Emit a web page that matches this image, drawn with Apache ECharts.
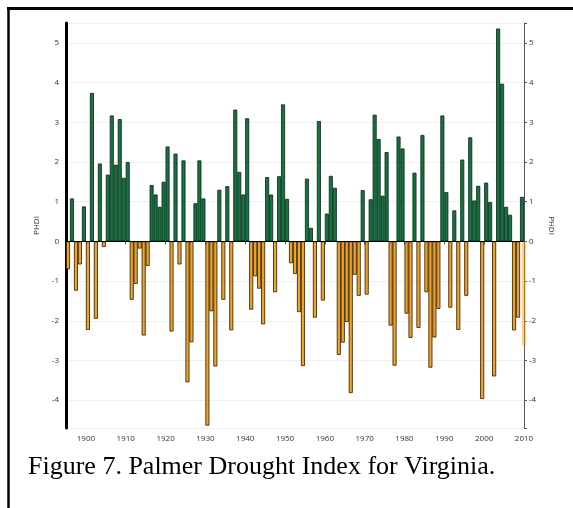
<!DOCTYPE html>
<html>
<head>
<meta charset="utf-8">
<script src="https://cdn.jsdelivr.net/npm/echarts@6/dist/echarts.min.js"></script>
<style>
  html, body { margin: 0; padding: 0; background: #fff; }
  #chart-view { width: 573px; height: 508px; }
</style>
</head>
<body>
<div id="chart-view"></div>
<script>
  // PHDI per year, first value is 1895
  const startYear = 1895
  const phdi = [
    -0.70, 1.08, -1.24, -0.58, 0.88,                                  // 1895-1899
    -2.23, 3.74, -1.95, 1.96, -0.14, 1.68, 3.17, 1.93, 3.08, 1.60,    // 1900s
    2.00, -1.47, -1.07, -0.18, -2.37, -0.62, 1.42, 1.18, 0.87, 1.50,  // 1910s
    2.39, -2.27, 2.21, -0.58, 2.04, -3.55, -2.54, 0.96, 2.04, 1.08,   // 1920s
    -4.64, -1.76, -3.15, 1.30, -1.47, 1.39, -2.24, 3.32, 1.75, 1.18,  // 1930s
    3.10, -1.72, -0.88, -1.19, -2.09, 1.62, 1.18, -1.28, 1.64, 3.45,  // 1940s
    1.07, -0.55, -0.82, -1.78, -3.14, 1.58, 0.34, -1.92, 3.03, -1.49, // 1950s
    0.70, 1.65, 1.35, -2.86, -2.55, -2.03, -3.82, -0.84, -1.37, 1.29, // 1960s
    -1.34, 1.06, 3.19, 2.58, 1.15, 2.25, -2.12, -3.13, 2.64, 2.34,    // 1970s
    -1.82, -2.43, 1.73, -2.18, 2.68, -1.28, -3.18, -2.42, -1.70, 3.17,// 1980s
    1.24, -1.67, 0.78, -2.23, 2.06, -1.37, 2.62, 1.03, 1.40, -3.97,   // 1990s
    1.48, 0.99, -3.40, 5.36, 3.97, 0.87, 0.67, -2.24, -1.92, 1.12     // 2000s
  ]
  const years = phdi.map((v, i) => startYear + i)
  // partial value drawn faintly at the right edge
  const partial2010 = -2.62
  const yTicks = [-4, -3, -2, -1, 0, 1, 2, 3, 4, 5]
  const xTicks = [1900, 1910, 1920, 1930, 1940, 1950, 1960, 1970, 1980, 1990, 2000, 2010]

  const wetData = []
  const dryData = []
  years.forEach((y, i) => {
    if (phdi[i] >= 0) wetData.push([y + 0.5, phdi[i]])
    else dryData.push([y + 0.5, phdi[i]])
  })

  const chartLine = echarts.init(document.getElementById('chart-view'))

  const labelFont = { fontFamily: 'Open Sans', fontSize: 8, color: '#333' }

  const option = {
    animation: false,
    grid: { left: 66, right: 49, top: 23, bottom: 80 },
    title: {
      text: 'Figure 7. Palmer Drought Index for Virginia.',
      left: 23,
      top: 449,
      textStyle: { fontFamily: 'Liberation Serif', fontSize: 26, fontWeight: 'normal', color: '#000' }
    },
    graphic: [
      { type: 'line', shape: { x1: 7, y1: 8.5, x2: 573, y2: 8.5 }, style: { stroke: '#000', lineWidth: 3 } },
      { type: 'line', shape: { x1: 8.5, y1: 7, x2: 8.5, y2: 508 }, style: { stroke: '#000', lineWidth: 2.5 } }
    ],
    xAxis: {
      type: 'value',
      min: 1895,
      max: 2010,
      splitNumber: 11,
      minInterval: 10,
      maxInterval: 10,
      axisLine: { show: false },
      axisTick: { show: true, length: 3, lineStyle: { color: '#555' } },
      axisLabel: {
        ...labelFont,
        margin: 7,
        formatter: v => (xTicks.indexOf(v) >= 0 ? String(v) : '')
      },
      splitLine: { show: false }
    },
    yAxis: [
      {
        type: 'value',
        min: -4.7,
        max: 5.5,
        splitNumber: 10,
        minInterval: 1,
        maxInterval: 1,
        name: 'PHDI',
        nameLocation: 'middle',
        nameGap: 16,
        nameTextStyle: { fontFamily: 'Open Sans', fontSize: 8, color: '#333' },
        axisLine: { show: true, lineStyle: { color: '#000', width: 3 } },
        axisTick: { show: false },
        axisLabel: {
          ...labelFont,
          margin: 7,
          formatter: v => (yTicks.indexOf(v) >= 0 ? String(v) : '')
        },
        splitLine: { show: true, lineStyle: { color: '#f0f0f0', width: 1 } }
      },
      {
        type: 'value',
        position: 'right',
        min: -4.7,
        max: 5.5,
        splitNumber: 10,
        minInterval: 1,
        maxInterval: 1,
        name: 'PHDI',
        nameLocation: 'middle',
        nameRotate: -90,
        nameGap: 16,
        nameTextStyle: { fontFamily: 'Open Sans', fontSize: 8, color: '#333' },
        axisLine: { show: true, lineStyle: { color: '#555', width: 1 } },
        axisTick: { show: true, length: 3, lineStyle: { color: '#555' } },
        axisLabel: {
          ...labelFont,
          margin: 5,
          formatter: v => (yTicks.indexOf(v) >= 0 ? String(v) : '')
        },
        splitLine: { show: false }
      }
    ],
    series: [
      {
        name: 'wet',
        type: 'bar',
        yAxisIndex: 0,
        data: wetData,
        barWidth: 4,
        barGap: '-100%',
        itemStyle: { color: '#0b7a3e', borderColor: '#1a1a1a', borderWidth: 0.8 },
        markLine: {
          silent: true,
          symbol: 'none',
          label: { show: false },
          lineStyle: { color: '#000', width: 1, type: 'solid' },
          data: [{ yAxis: 0 }]
        }
      },
      {
        name: 'dry',
        type: 'bar',
        yAxisIndex: 0,
        data: dryData,
        barWidth: 4,
        barGap: '-100%',
        itemStyle: { color: '#f7a21c', borderColor: '#1a1a1a', borderWidth: 0.8 }
      },
      {
        name: 'partial',
        type: 'bar',
        yAxisIndex: 0,
        data: [[2010, partial2010]],
        barWidth: 4,
        barGap: '-100%',
        itemStyle: { color: '#f7a21c', opacity: 0.5 }
      }
    ]
  }

  chartLine.setOption(option)
</script>
</body>
</html>
